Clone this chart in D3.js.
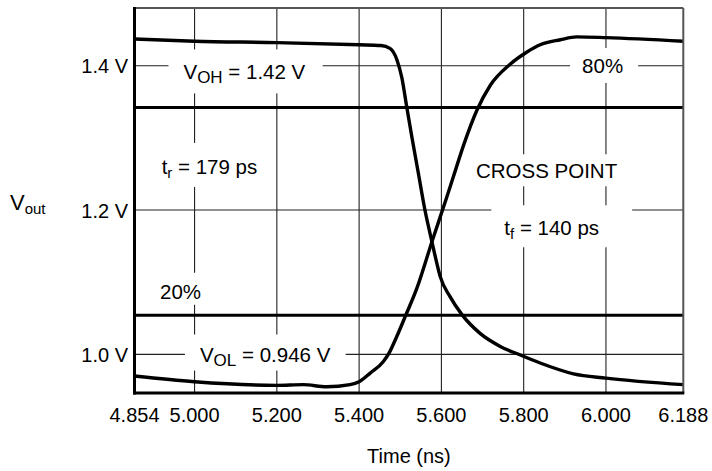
<!DOCTYPE html>
<html>
<head>
<meta charset="utf-8">
<title>Vout crossing</title>
<style>
  body { margin: 0; background: #fff; }
  text { font-family: "Liberation Sans", Arial, sans-serif; fill: #000; }
  .grid { stroke: #222; stroke-width: 1.1px; }
  .level { stroke: #000; stroke-width: 3px; }
  .trace { fill: none; stroke: #000; stroke-width: 3.4px; stroke-linejoin: round; }
</style>
</head>
<body>
<svg width="712" height="471"></svg>
<script src="https://d3js.org/d3.v7.min.js"></script>
<script>
// falling output (starts high)
var fallTime = [4.854, 5.000, 5.200, 5.400, 5.453, 5.475, 5.492, 5.504, 5.516, 5.528, 5.544, 5.560,
  5.577, 5.589, 5.597, 5.621, 5.650, 5.694, 5.743, 5.792, 5.840, 5.921, 6.000, 6.188];
var fallVolt = [1.437, 1.434, 1.432, 1.429, 1.428, 1.424, 1.408, 1.383, 1.342, 1.302, 1.251, 1.200,
  1.156, 1.126, 1.108, 1.080, 1.055, 1.029, 1.011, 0.999, 0.988, 0.973, 0.967, 0.958];

// rising output (starts low)
var riseTime = [4.854, 5.000, 5.200, 5.264, 5.321, 5.378, 5.400, 5.427, 5.459, 5.473, 5.491, 5.514,
  5.540, 5.577, 5.612, 5.629, 5.654, 5.686, 5.719, 5.767, 5.808, 5.840, 5.889, 5.929, 6.000, 6.188];
var riseVolt = [0.970, 0.962, 0.957, 0.958, 0.955, 0.958, 0.962, 0.974, 0.990, 1.002, 1.024, 1.055,
  1.091, 1.156, 1.216, 1.246, 1.290, 1.338, 1.373, 1.402, 1.419, 1.429, 1.436, 1.440, 1.439, 1.434];

var xTicks = [4.854, 5.0, 5.2, 5.4, 5.6, 5.8, 6.0, 6.188];
var xGrid = [5.0, 5.2, 5.4, 5.6, 5.8, 6.0];
var yTicks = [1.0, 1.2, 1.4];
var yTickLabels = ["1.0 V", "1.2 V", "1.4 V"];
var levels = [1.342, 1.054]; // 80% and 20%

var noteLabels = [
  [{ s: "V" }, { s: "OH", sub: 17 }, { s: " = 1.42 V" }],
  [{ s: "80%" }],
  [{ s: "t" }, { s: "r", sub: 15 }, { s: " = 179 ps" }],
  [{ s: "CROSS POINT" }],
  [{ s: "t" }, { s: "f", sub: 15 }, { s: " = 140 ps" }],
  [{ s: "20%" }],
  [{ s: "V" }, { s: "OL", sub: 17 }, { s: " = 0.946 V" }]
];
var noteTime = [4.973, 5.942, 4.920, 5.684, 5.753, 4.916, 5.013];
var noteVolt = [1.381, 1.390, 1.250, 1.244, 1.165, 1.077, 0.990];

var svg = d3.select("svg");
var pLeft = 134.5, pRight = 683.3, pTop = 8, pBottom = 393;

var x = d3.scaleLinear().domain([4.854, 6.188]).range([pLeft, pRight]);
var y = d3.scaleLinear().domain([0.9464, 1.48]).range([pBottom, pTop]);

// grid
svg.selectAll(".vgrid").data(xGrid).enter().append("line")
  .attr("class", "grid")
  .attr("x1", function (d) { return x(d); }).attr("x2", function (d) { return x(d); })
  .attr("y1", pTop).attr("y2", pBottom);

svg.selectAll(".hgrid").data(yTicks).enter().append("line")
  .attr("class", "grid")
  .attr("x1", pLeft).attr("x2", pRight)
  .attr("y1", function (d) { return y(d); }).attr("y2", function (d) { return y(d); });

// 80% / 20% levels
svg.selectAll(".level").data(levels).enter().append("line")
  .attr("class", "level")
  .attr("x1", pLeft).attr("x2", pRight)
  .attr("y1", function (d) { return y(d); }).attr("y2", function (d) { return y(d); });

// annotations with white boxes that cut the grid
var notePad = [[15, 11, 17, 6], [12, 6, 15, 6], [12, 12, 12, 6], [12, 5, 12, 4],
  [13, 11, 33, 5], [10, 7, 10, 2], [15, 8, 15, 1]];

noteLabels.forEach(function (parts, i) {
  var g = svg.append("g");
  var box = g.append("rect").attr("fill", "#fff");
  var t = g.append("text")
    .attr("x", x(noteTime[i]))
    .attr("y", y(noteVolt[i]))
    .style("font-size", "20.5px");
  var shifted = false;
  parts.forEach(function (p) {
    var ts = t.append("tspan").text(p.s);
    if (p.sub) {
      ts.style("font-size", p.sub + "px").attr("dy", 4);
      shifted = true;
    } else if (shifted) {
      ts.attr("dy", -4);
      shifted = false;
    }
  });
  var bb = t.node().getBBox();
  var p = notePad[i];
  box.attr("x", bb.x - p[0]).attr("y", bb.y - p[1])
    .attr("width", bb.width + p[0] + p[2])
    .attr("height", bb.height + p[1] + p[3]);
});

// traces
var line = d3.line()
  .x(function (d) { return x(d[0]); })
  .y(function (d) { return y(d[1]); })
  .curve(d3.curveMonotoneX);

svg.append("path").attr("class", "trace")
  .attr("d", line(d3.zip(fallTime, fallVolt)));
svg.append("path").attr("class", "trace")
  .attr("d", line(d3.zip(riseTime, riseVolt)));

// frame
svg.append("line").attr("x1", pLeft).attr("x2", pRight).attr("y1", pTop).attr("y2", pTop)
  .attr("stroke", "#555").attr("stroke-width", 2);
svg.append("line").attr("x1", pRight).attr("x2", pRight).attr("y1", pTop).attr("y2", pBottom)
  .attr("stroke", "#555").attr("stroke-width", 2);
svg.append("line").attr("x1", pLeft).attr("x2", pLeft).attr("y1", pTop - 1).attr("y2", pBottom + 1.5)
  .attr("stroke", "#000").attr("stroke-width", 3);
svg.append("line").attr("x1", pLeft - 1.5).attr("x2", pRight + 1).attr("y1", pBottom).attr("y2", pBottom)
  .attr("stroke", "#000").attr("stroke-width", 3);

// tick labels
svg.selectAll(".xlab").data(xTicks).enter().append("text")
  .attr("x", function (d) { return x(d); })
  .attr("y", 421.5)
  .attr("text-anchor", "middle")
  .style("font-size", "20px")
  .text(function (d) { return d3.format(".3f")(d); });

svg.selectAll(".ylab").data(yTicks).enter().append("text")
  .attr("x", 128)
  .attr("y", function (d) { return y(d) + 7.5; })
  .attr("text-anchor", "end")
  .style("font-size", "20px")
  .text(function (d, i) { return yTickLabels[i]; });

// axis titles
svg.append("text")
  .attr("x", (pLeft + pRight) / 2).attr("y", 463)
  .attr("text-anchor", "middle")
  .style("font-size", "20px")
  .text("Time (ns)");

var vt = svg.append("text").attr("x", 10).attr("y", 210).style("font-size", "22px");
vt.append("tspan").text("V");
vt.append("tspan").text("out").style("font-size", "15px").attr("dy", 3.5);
</script>
</body>
</html>
